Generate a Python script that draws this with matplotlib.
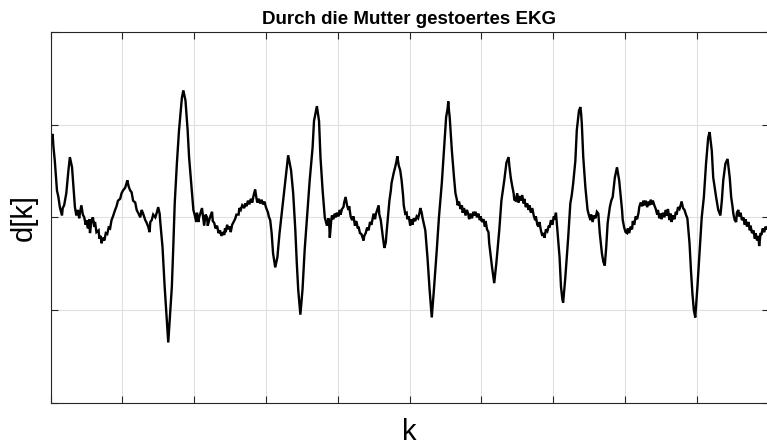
import numpy as np
import matplotlib
matplotlib.use("Agg")
import matplotlib.pyplot as plt

plt.rcParams['font.family'] = ['Liberation Sans', 'DejaVu Sans']

title = "Durch die Mutter gestoertes EKG"
xlabel = "k"
ylabel = "d[k]"

# sample index k and disturbed ECG amplitude d[k]
k = [
    0, 2, 3, 4, 6, 9, 11, 13, 16, 17, 19, 22, 25, 27, 30, 32, 34, 36, 38, 40,
    41, 43, 45, 47, 49, 50, 52, 54, 55, 57, 59, 61, 62, 64, 67, 68, 70, 71, 73, 75,
    77, 79, 81, 83, 85, 87, 90, 92, 94, 97, 99, 101, 104, 106, 107, 109, 111, 113, 115, 118,
    120, 122, 125, 127, 129, 132, 134, 136, 138, 139, 141, 143, 146, 148, 150, 152, 153, 156, 158, 159,
    162, 164, 166, 169, 171, 173, 176, 179, 183, 185, 188, 191, 193, 197, 199, 201, 203, 204, 206, 207,
    209, 211, 213, 214, 216, 218, 219, 221, 223, 225, 226, 228, 230, 232, 234, 236, 238, 240, 242, 243,
    244, 246, 248, 250, 251, 253, 255, 257, 259, 262, 263, 265, 267, 270, 271, 273, 275, 277, 279, 281,
    283, 285, 287, 288, 290, 292, 294, 296, 298, 300, 303, 304, 306, 308, 310, 313, 316, 319, 321, 324,
    328, 331, 335, 338, 341, 343, 345, 348, 351, 354, 358, 361, 365, 367, 371, 374, 376, 379, 382, 385,
    387, 388, 389, 391, 392, 394, 396, 397, 399, 401, 403, 404, 406, 408, 409, 411, 413, 415, 416, 418,
    420, 422, 424, 426, 428, 429, 431, 433, 436, 437, 439, 441, 443, 445, 447, 450, 452, 453, 455, 457,
    458, 460, 463, 465, 467, 468, 472, 474, 475, 478, 480, 482, 483, 485, 487, 489, 491, 492, 494, 496,
    497, 499, 501, 503, 504, 506, 508, 510, 512, 514, 515, 517, 518, 522, 525, 528, 531, 534, 538, 541,
    545, 548, 551, 553, 554, 555, 556, 559, 562, 564, 566, 567, 569, 571, 573, 574, 576, 578, 580, 582,
    583, 585, 587, 589, 590, 592, 594, 596, 598, 599, 601, 603, 605, 606, 608, 610, 611, 615, 618, 621,
    625, 628, 632, 635, 638, 639, 641, 643, 645, 646, 648, 650, 652, 653, 655, 657, 659, 660, 662, 664,
    666, 667, 669, 671, 673, 675, 676, 678, 680, 681, 683, 685, 687, 688, 690, 692, 694, 695, 697, 699,
    701, 702, 704, 706, 709, 711, 713, 714, 717, 721, 724, 726, 728, 731, 733, 736, 738, 739, 740, 742,
    745, 748, 750, 752, 753, 755, 757, 759, 761, 763, 765, 768, 770, 772, 774, 776, 779, 781, 783, 786,
    789, 792, 796, 797, 799, 801, 803, 804, 806, 808, 810, 811, 813, 815, 817, 819, 820, 822, 824, 826,
    827, 829, 831, 833, 834, 836, 838, 839, 841, 843, 845, 846, 848, 850, 851, 853, 855, 857, 858, 860,
    862, 864, 865, 867, 869, 871, 872, 874, 876, 878, 879, 881, 883, 885, 887, 890, 892, 894, 896, 898,
    901, 905, 907, 910, 913, 916, 918, 919, 921, 923, 927, 930, 933, 935, 937, 940, 943, 946, 948, 950,
    951, 953, 955, 956, 958, 959, 961, 963, 965, 967, 968, 970, 972, 974, 975, 977, 979, 981, 982, 984,
    986, 987, 989, 990, 992, 994, 996, 998, 1000,
]
d = [
    0.94, 0.83, 0.90, 0.77, 0.61, 0.29, 0.22, 0.11, 0.02, 0.10, 0.13, 0.26, 0.51, 0.65, 0.54, 0.32, 0.11, 0.02, 0.08, -0.01,
    0.05, 0.13, 0.03, 0.00, -0.08, -0.03, -0.12, -0.02, -0.17, -0.04, 0.00, -0.10, -0.05, -0.16, -0.14, -0.23, -0.20, -0.28, -0.22, -0.25,
    -0.17, -0.18, -0.11, -0.12, -0.03, 0.01, 0.08, 0.12, 0.18, 0.20, 0.26, 0.29, 0.32, 0.37, 0.40, 0.33, 0.29, 0.27, 0.18, 0.16,
    0.08, 0.05, 0.00, 0.08, 0.04, -0.03, -0.06, -0.10, -0.16, -0.05, -0.03, 0.03, 0.00, 0.05, 0.11, 0.04, -0.06, -0.32, -0.62, -0.75,
    -1.11, -1.35, -1.11, -0.75, -0.32, 0.15, 0.58, 0.94, 1.29, 1.37, 1.26, 0.94, 0.65, 0.26, 0.08, 0.02, -0.05, 0.05, -0.05, 0.00,
    0.05, 0.10, -0.03, -0.09, 0.03, 0.00, -0.09, -0.03, 0.02, 0.06, -0.04, -0.06, -0.12, -0.09, -0.17, -0.14, -0.20, -0.16, -0.19, -0.12,
    -0.16, -0.08, -0.13, -0.10, -0.16, -0.08, -0.05, -0.02, 0.03, 0.03, 0.10, 0.08, 0.13, 0.10, 0.15, 0.12, 0.18, 0.14, 0.20, 0.16,
    0.24, 0.30, 0.20, 0.16, 0.20, 0.15, 0.19, 0.14, 0.17, 0.11, 0.05, 0.01, -0.03, -0.17, -0.39, -0.54, -0.43, -0.17, -0.03, 0.18,
    0.47, 0.67, 0.51, 0.26, -0.14, -0.49, -0.78, -1.05, -0.78, -0.35, 0.08, 0.40, 0.75, 1.04, 1.20, 1.04, 0.65, 0.29, 0.00, -0.09,
    -0.01, -0.05, -0.22, -0.03, 0.02, -0.02, 0.04, 0.00, 0.05, 0.01, 0.08, 0.03, 0.09, 0.11, 0.16, 0.22, 0.13, 0.08, 0.12, 0.01,
    -0.03, 0.01, -0.09, -0.04, -0.12, -0.10, -0.17, -0.18, -0.25, -0.20, -0.17, -0.11, -0.14, -0.05, -0.08, 0.04, -0.02, 0.03, 0.08, 0.13,
    0.03, -0.03, -0.22, -0.33, -0.27, -0.17, 0.18, 0.29, 0.37, 0.48, 0.54, 0.61, 0.66, 0.56, 0.51, 0.40, 0.24, 0.13, 0.04, 0.05,
    -0.02, 0.01, -0.09, -0.02, -0.08, -0.01, -0.04, 0.01, -0.01, 0.05, 0.10, 0.05, 0.00, -0.14, -0.43, -0.78, -1.08, -0.78, -0.35, 0.00,
    0.37, 0.72, 1.08, 1.17, 1.25, 1.15, 1.08, 0.72, 0.43, 0.26, 0.19, 0.13, 0.17, 0.09, 0.13, 0.05, 0.10, 0.02, 0.08, 0.03,
    -0.02, 0.04, -0.01, 0.06, 0.02, 0.06, 0.00, 0.04, -0.03, 0.01, -0.05, -0.02, -0.10, -0.04, -0.13, -0.16, -0.28, -0.54, -0.71, -0.49,
    -0.14, 0.18, 0.40, 0.59, 0.65, 0.56, 0.43, 0.34, 0.26, 0.19, 0.18, 0.26, 0.16, 0.23, 0.18, 0.24, 0.15, 0.20, 0.11, 0.15,
    0.08, 0.13, 0.05, 0.10, 0.02, -0.03, 0.01, -0.08, -0.10, -0.05, -0.14, -0.20, -0.17, -0.22, -0.13, -0.15, -0.09, -0.11, -0.03, -0.08,
    0.01, -0.02, 0.05, -0.14, -0.43, -0.75, -0.89, -0.92, -0.65, -0.22, 0.15, 0.24, 0.37, 0.61, 0.94, 1.15, 1.19, 1.12, 1.01, 0.65,
    0.32, 0.08, 0.02, -0.03, 0.03, -0.05, 0.02, -0.01, 0.06, 0.04, -0.17, -0.39, -0.48, -0.52, -0.32, -0.06, 0.11, 0.18, 0.22, 0.43,
    0.54, 0.40, 0.08, -0.03, -0.11, -0.16, -0.17, -0.12, -0.17, -0.10, -0.13, -0.04, -0.08, 0.01, -0.02, 0.05, 0.11, 0.16, 0.12, 0.18,
    0.13, 0.18, 0.11, 0.17, 0.13, 0.19, 0.14, 0.18, 0.13, 0.09, 0.03, 0.08, -0.01, 0.04, -0.02, 0.05, 0.00, 0.08, 0.02, 0.09,
    -0.03, 0.04, -0.05, 0.02, -0.02, 0.06, 0.03, 0.11, 0.09, 0.14, 0.17, 0.10, 0.08, 0.03, -0.01, -0.28, -0.57, -0.82, -1.00, -1.08,
    -0.75, -0.25, 0.00, 0.22, 0.58, 0.86, 0.92, 0.85, 0.72, 0.43, 0.22, 0.08, 0.02, 0.18, 0.40, 0.58, 0.63, 0.43, 0.22, 0.11,
    0.04, -0.03, -0.05, 0.05, 0.08, 0.01, 0.05, -0.03, 0.00, -0.08, -0.02, -0.10, -0.05, -0.14, -0.09, -0.17, -0.14, -0.23, -0.17, -0.25,
    -0.20, -0.31, -0.17, -0.19, -0.12, -0.16, -0.10, -0.13, -0.09,
]

W, H = 767, 445
fig = plt.figure(figsize=(W / 100, H / 100), dpi=100)
ax = fig.add_axes([50.5 / W, (H - 402.7) / H, 718 / W, 370.7 / H])

ax.plot(k, d, color='black', linewidth=1.7, solid_joinstyle='miter')

ax.set_xlim(0, 1000)
ax.set_ylim(-2, 2)
ax.set_xticks(np.arange(0, 1001, 100))
ax.set_yticks([-2, -1, 0, 1, 2])
ax.set_xticklabels([])
ax.set_yticklabels([])

axis_color = '#262626'
ax.grid(True, color='#e0e0e0', linewidth=0.8)
ax.set_axisbelow(True)
ax.tick_params(direction='in', length=5, width=0.8, colors=axis_color,
               top=True, right=True)
for s in ax.spines.values():
    s.set_color(axis_color)
    s.set_linewidth(0.8)

ax.set_title(title, fontsize=13.5, fontweight='bold', pad=6)
ax.set_xlabel(xlabel, fontsize=21, labelpad=7.5)
ax.set_ylabel(ylabel, fontsize=21, labelpad=6)

fig.savefig('out.png', dpi=100)
